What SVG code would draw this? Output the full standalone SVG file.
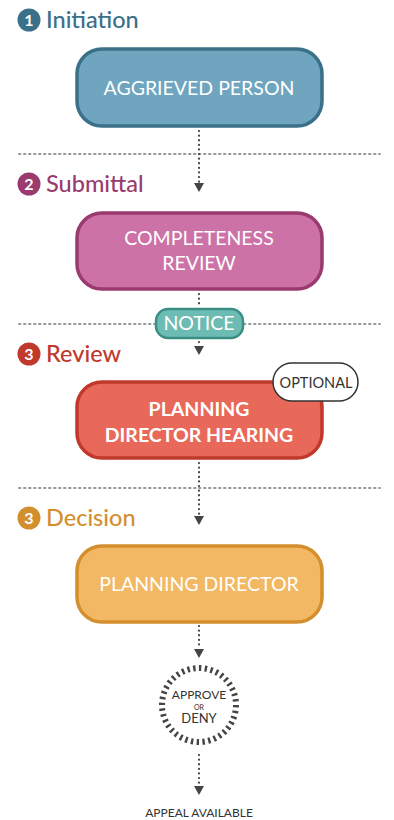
<svg xmlns="http://www.w3.org/2000/svg" width="394" height="820" viewBox="0 0 394 820">
<defs>
<style>
.hdr{font-family:Lato,"Open Sans",sans-serif;font-size:23.5px;font-weight:500}
.num{font-family:Lato,sans-serif;font-size:16px;font-weight:700;fill:#fff;text-anchor:middle}
.box{stroke-width:3.5}
.lbl{font-family:Lato,"Open Sans",sans-serif;font-size:19.5px;fill:#fff;text-anchor:middle}
.sep{stroke:#9a9a9a;stroke-width:2;stroke-dasharray:1.5 3.5;stroke-linecap:round;fill:none}
.conn{stroke:#444;stroke-width:2.2;stroke-dasharray:0.1 4.5;stroke-linecap:round;fill:none}
.dk{font-family:Lato,"Open Sans",sans-serif;fill:#333;text-anchor:middle}
</style>
</defs>
<g id="separators">
<line class="sep" x1="19" y1="154" x2="380" y2="154"/>
<line class="sep" x1="19" y1="324" x2="380" y2="324"/>
<line class="sep" x1="19" y1="488" x2="380" y2="488"/>
</g>
<g id="connectors">
<line class="conn" x1="199" y1="131" x2="199" y2="182"/>
<path d="M194,183 L204,183 L199,192 Z" fill="#444"/>
<line class="conn" x1="199" y1="294" x2="199" y2="306"/>
<line class="conn" x1="199" y1="342" x2="199" y2="344"/>
<path d="M194,346 L204,346 L199,355 Z" fill="#444"/>
<line class="conn" x1="199" y1="463" x2="199" y2="515"/>
<path d="M194,516 L204,516 L199,525 Z" fill="#444"/>
<line class="conn" x1="199" y1="626" x2="199" y2="646"/>
<path d="M194,649 L204,649 L199,658 Z" fill="#444"/>
<line class="conn" x1="199" y1="755" x2="199" y2="786"/>
<path d="M194,786 L204,786 L199,795 Z" fill="#444"/>
</g>
<g id="h1">
<circle cx="29" cy="20" r="11.5" fill="#3a7088"/>
<text class="num" x="29" y="26">1</text>
<text class="hdr" x="46" y="28" fill="#3a7088">Initiation</text>
</g>
<g id="h2">
<circle cx="29" cy="184" r="11.5" fill="#9a3a6f"/>
<text class="num" x="29" y="190">2</text>
<text class="hdr" x="46" y="192" fill="#9a3a6f">Submittal</text>
</g>
<g id="h3">
<circle cx="29" cy="354" r="11.5" fill="#c0392b"/>
<text class="num" x="29" y="360">3</text>
<text class="hdr" x="46" y="362" fill="#c0392b">Review</text>
</g>
<g id="h4">
<circle cx="29" cy="518" r="11.5" fill="#d38f2e"/>
<text class="num" x="29" y="524">3</text>
<text class="hdr" x="46" y="526" fill="#d38f2e">Decision</text>
</g>
<g id="n1">
<rect class="box" x="77" y="49" width="245" height="77" rx="25" fill="#6fa5be" stroke="#3a7088"/>
<text class="lbl" x="199" y="95">AGGRIEVED PERSON</text>
</g>
<g id="n2">
<rect class="box" x="77" y="213" width="245" height="76" rx="25" fill="#cc72a6" stroke="#9a3a6f"/>
<text class="lbl" x="199" y="245">COMPLETENESS</text>
<text class="lbl" x="199" y="270">REVIEW</text>
</g>
<g id="notice">
<rect x="156" y="309" width="87" height="29" rx="12" fill="#6dbcb3" stroke="#3a8f84" stroke-width="2.5"/>
<text class="lbl" x="199" y="330" font-size="15.5">NOTICE</text>
</g>
<g id="n3">
<rect class="box" x="77" y="382" width="245" height="76" rx="25" fill="#e8695a" stroke="#c0392b"/>
<text class="lbl" x="199" y="416" font-weight="700">PLANNING</text>
<text class="lbl" x="199" y="442" font-weight="700">DIRECTOR HEARING</text>
</g>
<g id="optional">
<rect x="273" y="363" width="85" height="38" rx="19" fill="#fff" stroke="#333" stroke-width="1.5"/>
<text class="dk" x="316" y="388" font-size="14.5">OPTIONAL</text>
</g>
<g id="n4">
<rect class="box" x="77" y="546" width="245" height="76" rx="25" fill="#f2b863" stroke="#d38f2e"/>
<text class="lbl" x="199" y="591">PLANNING DIRECTOR</text>
</g>
<g id="decision">
<circle cx="199" cy="705" r="37" fill="none" stroke="#444" stroke-width="6" stroke-dasharray="2.4 3.4"/>
<text class="dk" x="199" y="699" font-size="12">APPROVE</text>
<text class="dk" x="199" y="710" font-size="7">OR</text>
<text class="dk" x="199" y="723" font-size="13">DENY</text>
</g>
<g id="appeal">
<text class="dk" x="199" y="817" font-size="12">APPEAL AVAILABLE</text>
</g>
</svg>
